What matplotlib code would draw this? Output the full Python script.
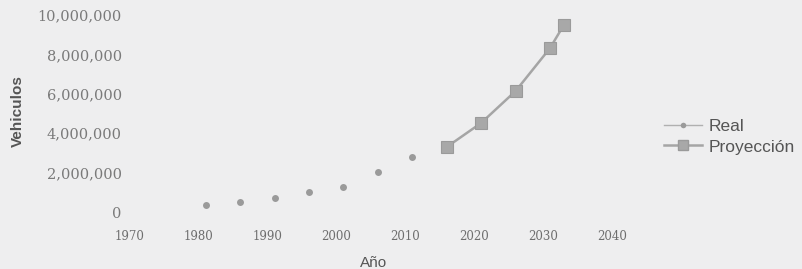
import matplotlib.pyplot as plt
from matplotlib.lines import Line2D
from matplotlib.ticker import FuncFormatter

# Datos
anios_real = [1981, 1986, 1991, 1996, 2001, 2006, 2011]
vehiculos_real = [360000, 510000, 710000, 1020000, 1270000, 2030000, 2790000]

anios_proy = [2016, 2021, 2026, 2031, 2033]
vehiculos_proy = [3300000, 4520000, 6140000, 8320000, 9490000]

x_ticks = [1970, 1980, 1990, 2000, 2010, 2020, 2030, 2040]
y_ticks = [0, 2000000, 4000000, 6000000, 8000000, 10000000]

fondo = '#eeeeef'
gris_txt = '#7a7a7a'

fig = plt.figure(figsize=(8.03, 2.69), dpi=100, facecolor=fondo)
ax = fig.add_axes([130 / 803, 57 / 269, 482 / 803, 197 / 269])
ax.set_facecolor(fondo)

ax.plot(anios_real, vehiculos_real, linestyle='none', marker='o',
        markersize=5, color='#9a9a9a', markeredgewidth=0)
ax.plot(anios_proy, vehiculos_proy, color='#a5a5a5', linewidth=1.8,
        marker='s', markersize=9, markerfacecolor='#a8a8a8',
        markeredgecolor='#9a9a9a', markeredgewidth=0.8)

ax.set_xlim(1970, 2040)
ax.set_ylim(0, 10000000)
ax.set_xticks(x_ticks)
ax.set_yticks(y_ticks)
ax.yaxis.set_major_formatter(FuncFormatter(lambda v, p: f'{int(v):,}'))

for s in ax.spines.values():
    s.set_visible(False)
ax.tick_params(length=0)
ax.tick_params(axis='y', pad=6)
ax.tick_params(axis='x', pad=13)
for lab in ax.get_yticklabels():
    lab.set_fontfamily('DejaVu Serif')
    lab.set_fontsize(10.5)
    lab.set_color(gris_txt)
for lab in ax.get_xticklabels():
    lab.set_fontfamily('DejaVu Serif')
    lab.set_fontsize(8.5)
    lab.set_color('#6e6e6e')

fig.text(18 / 803, 1 - 111 / 269, 'Vehiculos', rotation=90, ha='center',
         va='center', fontsize=11, fontweight='bold', color='#555555',
         family='Liberation Sans')
fig.text(374 / 803, 1 - 263 / 269, 'Año', ha='center', va='center',
         fontsize=11, color='#555555', family='Liberation Sans')

handles = [
    Line2D([], [], color='#b0b0b0', linewidth=1, marker='o', markersize=4,
           markerfacecolor='#9a9a9a', markeredgewidth=0),
    Line2D([], [], color='#a5a5a5', linewidth=1.8, marker='s', markersize=7,
           markerfacecolor='#a8a8a8', markeredgecolor='#9a9a9a'),
]
leg = fig.legend(handles, ['Real', 'Proyección'], loc='upper left',
                 bbox_to_anchor=(664 / 803, 1 - 119 / 269), frameon=False,
                 borderpad=0, borderaxespad=0, handlelength=2.2,
                 handletextpad=0.35, labelspacing=0.3,
                 prop={'family': 'Liberation Sans', 'size': 12.5})
for t in leg.get_texts():
    t.set_color('#555555')

fig.savefig('out.png', dpi=100, facecolor=fondo)
